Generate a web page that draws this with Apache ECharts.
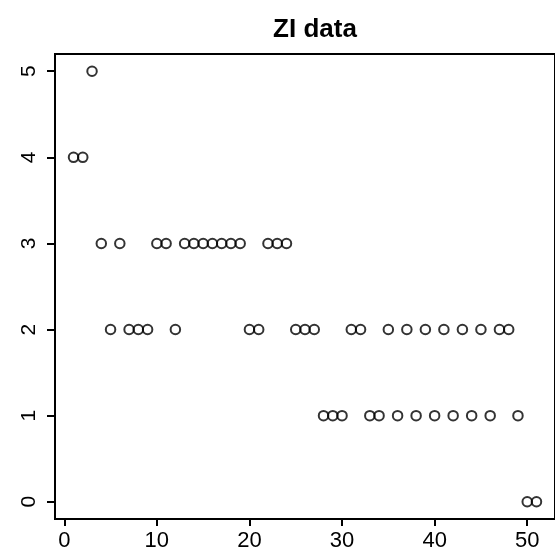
<!DOCTYPE html>
<html>
<head>
<meta charset="utf-8">
<script src="https://cdn.jsdelivr.net/npm/echarts@6/dist/echarts.min.js"></script>
<style>html,body{margin:0;padding:0;background:#fff}#c{width:555px;height:552px}</style>
</head>
<body>
<div id="c"></div>
<script>
const titleText = "ZI data";
const xIndex = [1,2,3,4,5,6,7,8,9,10,11,12,13,14,15,16,17,18,19,20,21,22,23,24,25,26,27,28,29,30,31,32,33,34,35,36,37,38,39,40,41,42,43,44,45,46,47,48,49,50,51];
const ziValues = [4,4,5,3,2,3,2,2,2,3,3,2,3,3,3,3,3,3,3,2,2,3,3,3,2,2,2,1,1,1,2,2,1,1,2,1,2,1,2,1,2,1,2,1,2,1,2,2,1,0,0];
const xTicks = [0,10,20,30,40,50];
const yTicks = [0,1,2,3,4,5];

const data = xIndex.map((x, i) => [x, ziValues[i]]);
const FONT = "'Liberation Sans', Arial, sans-serif";
const chart = echarts.init(document.getElementById('c'), null, {renderer: 'canvas'});
chart.setOption({
  animation: false,
  backgroundColor: '#fff',
  title: {
    text: titleText,
    left: 310,
    top: 12,
    textAlign: 'center',
    textStyle: {fontFamily: FONT, fontWeight: 'bold', fontSize: 26, color: '#000'}
  },
  grid: {
    left: 55, top: 54, width: 511, height: 465,
    show: true, borderColor: '#000', borderWidth: 2, backgroundColor: 'transparent'
  },
  xAxis: {
    type: 'value', min: -1, max: 53,
    splitLine: {show: false},
    axisLine: {show: true, onZero: false, lineStyle: {color: '#000', width: 2}},
    axisTick: {show: true, length: 7, customValues: xTicks, lineStyle: {color: '#000', width: 2}},
    axisLabel: {customValues: xTicks, margin: 11, fontFamily: FONT, fontSize: 22, color: '#000'}
  },
  yAxis: {
    type: 'value', min: -0.2, max: 5.2,
    splitLine: {show: false},
    axisLine: {show: true, onZero: false, lineStyle: {color: '#000', width: 2}},
    axisTick: {show: true, length: 8, customValues: yTicks, lineStyle: {color: '#000', width: 2}},
    axisLabel: {customValues: yTicks, rotate: 90, margin: 15, fontFamily: FONT, fontSize: 21, color: '#000'}
  },
  series: [{
    type: 'scatter',
    data: data,
    symbol: 'circle',
    symbolSize: 9.5,
    itemStyle: {color: 'rgba(255,255,255,0)', borderColor: '#000', borderWidth: 2}
  }]
});
</script>
</body>
</html>
